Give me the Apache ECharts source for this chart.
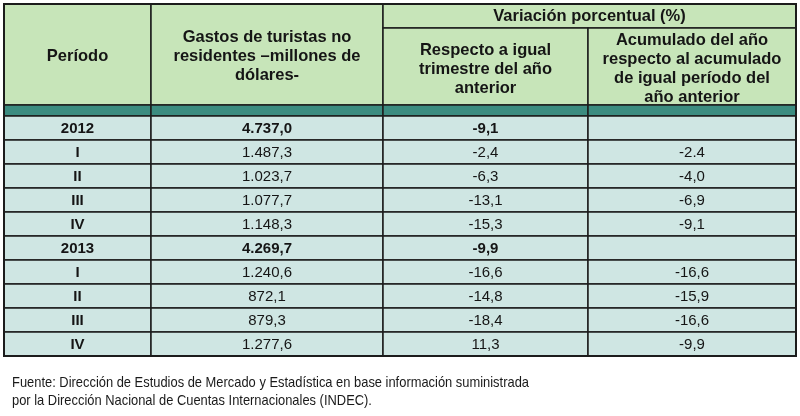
<!DOCTYPE html>
<html>
<head>
<meta charset="utf-8">
<script src="https://cdn.jsdelivr.net/npm/echarts@6/dist/echarts.min.js"></script>
<style>
  html, body { margin: 0; background: #fff; }
  #main { width: 800px; height: 416px; }
</style>
</head>
<body>
<div id="main"></div>
<script>
// datos de la tabla
const periods = ['2012', 'I', 'II', 'III', 'IV', '2013', 'I', 'II', 'III', 'IV'];
const gastos = [4737.0, 1487.3, 1023.7, 1077.7, 1148.3, 4269.7, 1240.6, 872.1, 879.3, 1277.6];
const varTrimestre = [-9.1, -2.4, -6.3, -13.1, -15.3, -9.9, -16.6, -14.8, -18.4, 11.3];
// tal como figura impreso (incluye el "-2.4" con punto)
const varAcumulado = ['', '-2.4', '-4,0', '-6,9', '-9,1', '', '-16,6', '-15,9', '-16,6', '-9,9'];

const headers = [
  'Período',
  'Gastos de turistas no\nresidentes –millones de\ndólares-',
  'Respecto a igual\ntrimestre del año\nanterior',
  'Acumulado del año\nrespecto al acumulado\nde igual período del\naño anterior'
];
const groupHeader = 'Variación porcentual (%)';
const footer = 'Fuente: Dirección de Estudios de Mercado y Estadística en base información suministrada\npor la Dirección Nacional de Cuentas Internacionales (INDEC).';

// layout
const edges = [4, 151, 383, 588, 796];
const TOP = 4, SUB = 28, HEAD_BOTTOM = 105, BODY_TOP = 116, BODY_BOTTOM = 356;
const GREEN = '#c7e5b9', BAND = '#3c8c80', CELL = '#cfe6e3', LINE = '#1c1c1c';
const FONT = '"Liberation Sans", Arial, sans-serif';

function fmt(v) {
  const parts = Math.abs(v).toFixed(1).split('.');
  return (v < 0 ? '-' : '') + parts[0].replace(/\B(?=(\d{3})+(?!\d))/g, '.') + ',' + parts[1];
}

const isYear = periods.map(p => /^\d{4}$/.test(p));
const columns = [
  periods,
  gastos.map(fmt),
  varTrimestre.map(fmt),
  varAcumulado
];

const chart = echarts.init(document.getElementById('main'));

const grids = [], xAxes = [], yAxes = [], series = [];
columns.forEach((texts, c) => {
  grids.push({ left: edges[c], width: edges[c + 1] - edges[c], top: BODY_TOP, height: BODY_BOTTOM - BODY_TOP });
  xAxes.push({ gridIndex: c, type: 'value', min: 0, max: 1, show: false });
  yAxes.push({ gridIndex: c, type: 'category', data: periods, inverse: true, show: false });
  series.push({
    type: 'custom',
    xAxisIndex: c,
    yAxisIndex: c,
    data: periods.map((p, i) => [0.5, i]),
    renderItem(params, api) {
      const cs = params.coordSys;
      const i = params.dataIndex;
      const cy = api.coord([0.5, api.value(1)])[1];
      const h = api.size([0, 1])[1];
      const bold = c === 0 || (isYear[i] && c < 3);
      return {
        type: 'group',
        children: [
          { type: 'rect', shape: { x: cs.x, y: cy - h / 2, width: cs.width, height: h },
            style: { fill: CELL, stroke: LINE, lineWidth: 1.5 } },
          { type: 'text', x: cs.x + cs.width / 2, y: cy + 1,
            style: { text: texts[i], align: 'center', verticalAlign: 'middle',
                     font: (bold ? 'bold ' : '') + '15px ' + FONT, fill: '#151515' } }
        ]
      };
    }
  });
});

// cabecera
const graphic = [];
function cell(x1, y1, x2, y2, fill) {
  graphic.push({ type: 'rect', shape: { x: x1, y: y1, width: x2 - x1, height: y2 - y1 },
    style: { fill: fill, stroke: LINE, lineWidth: 1.5 } });
}
function label(text, x, y) {
  graphic.push({ type: 'text', x: x, y: y,
    style: { text: text, align: 'center', verticalAlign: 'middle', lineHeight: 19,
             font: 'bold 16.5px ' + FONT, fill: '#151515' } });
}
cell(edges[0], TOP, edges[1], HEAD_BOTTOM, GREEN);
cell(edges[1], TOP, edges[2], HEAD_BOTTOM, GREEN);
cell(edges[2], TOP, edges[4], SUB, GREEN);
cell(edges[2], SUB, edges[3], HEAD_BOTTOM, GREEN);
cell(edges[3], SUB, edges[4], HEAD_BOTTOM, GREEN);
for (let c = 0; c < 4; c++) cell(edges[c], HEAD_BOTTOM, edges[c + 1], BODY_TOP, BAND);

label(headers[0], (edges[0] + edges[1]) / 2, 56);
label(headers[1], (edges[1] + edges[2]) / 2, 56);
label(groupHeader, (edges[2] + edges[4]) / 2, 16);
label(headers[2], (edges[2] + edges[3]) / 2, 69);
label(headers[3], (edges[3] + edges[4]) / 2, 69);

// borde exterior
graphic.push({ type: 'rect', z: 100, shape: { x: edges[0], y: TOP, width: edges[4] - edges[0], height: BODY_BOTTOM - TOP },
  style: { fill: 'none', stroke: LINE, lineWidth: 2 } });

// fuente (letra angosta)
graphic.push({ type: 'text', x: 12, y: 392, scaleX: 0.86,
  style: { text: footer, align: 'left', verticalAlign: 'middle', lineHeight: 18,
           font: '15px ' + FONT, fill: '#1a1a1a' } });

chart.setOption({
  animation: false,
  grid: grids,
  xAxis: xAxes,
  yAxis: yAxes,
  series: series,
  graphic: graphic
});
</script>
</body>
</html>
